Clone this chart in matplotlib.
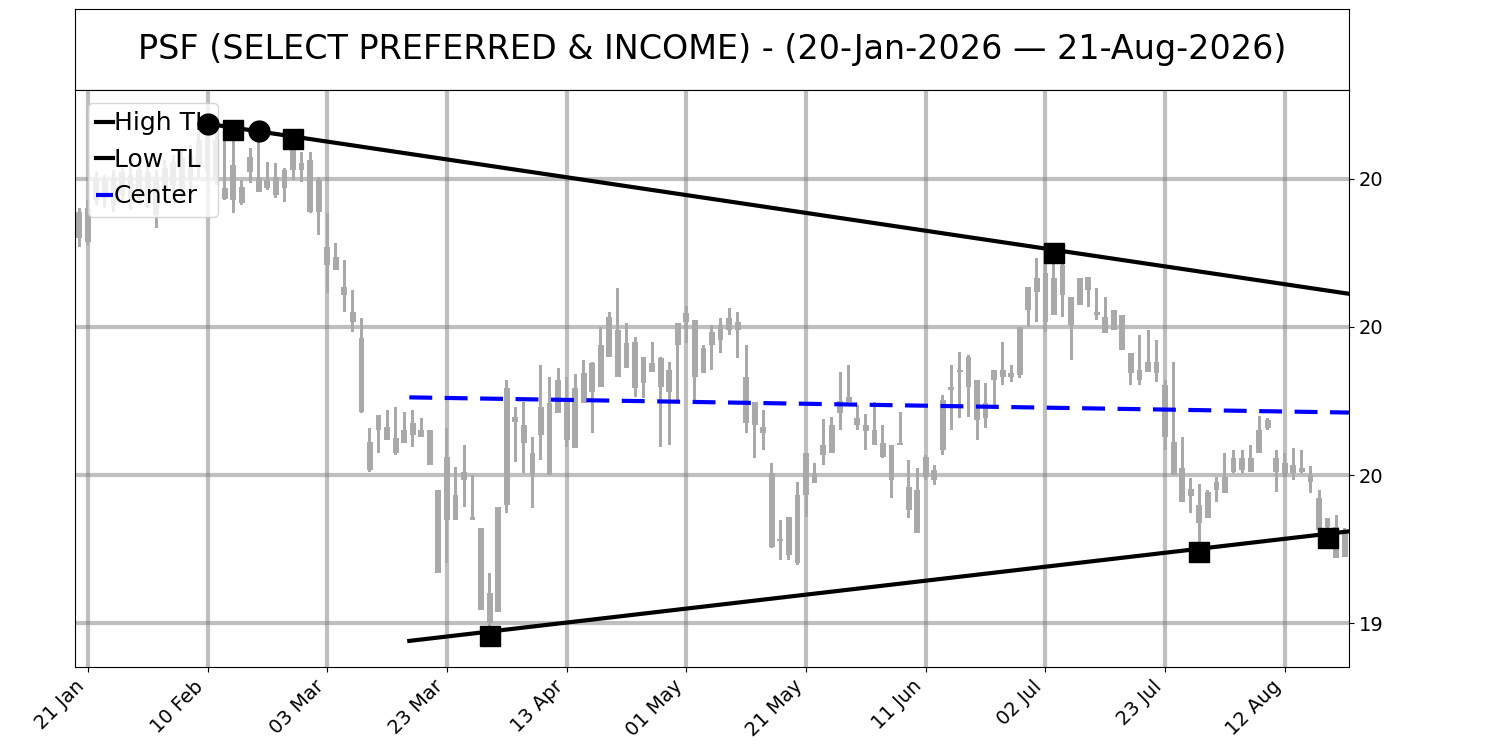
import matplotlib
matplotlib.use('Agg')
import matplotlib.pyplot as plt
import numpy as np
import pandas as pd

TITLE = 'PSF (SELECT PREFERRED & INCOME) - (20-Jan-2026 \u2014 21-Aug-2026)'

HOLIDAYS = ['2026-02-16', '2026-04-03', '2026-05-25', '2026-06-19', '2026-07-03']
DATES = pd.bdate_range('2026-01-20', '2026-08-21', freq='C', holidays=HOLIDAYS)

# daily bars
HIGH = [19.951, 19.965, 20.012, 20.007, 20.015, 20.019, 20.024, 20.032, 20.024, 20.015,
        20.032, 20.041, 20.049, 20.057, 20.083, 20.093, 20.086, 20.083, 20.083, 19.998,
        20.052, 20.081, 20.029, 20.027, 20.019, 20.068, 20.046, 20.046, 20.003, 19.943,
        19.892, 19.863, 19.813, 19.765, 19.579, 19.601, 19.610, 19.615, 19.606, 19.610,
        19.596, 19.576, 19.475, 19.579, 19.514, 19.551, 19.500, 19.411, 19.334, 19.446,
        19.660, 19.615, 19.623, 19.564, 19.686, 19.666, 19.681, 19.666, 19.671, 19.694,
        19.691, 19.750, 19.775, 19.816, 19.757, 19.733, 19.699, 19.725, 19.699, 19.691,
        19.757, 19.786, 19.762, 19.720, 19.753, 19.765, 19.782, 19.775, 19.720, 19.623,
        19.610, 19.520, 19.424, 19.429, 19.488, 19.537, 19.520, 19.595, 19.598, 19.674,
        19.686, 19.618, 19.603, 19.623, 19.584, 19.551, 19.606, 19.525, 19.512, 19.534,
        19.517, 19.635, 19.686, 19.708, 19.703, 19.660, 19.655, 19.677, 19.725, 19.686,
        19.750, 19.818, 19.867, 19.867, 19.875, 19.875, 19.801, 19.833, 19.834, 19.816,
        19.801, 19.779, 19.770, 19.706, 19.736, 19.745, 19.728, 19.660, 19.691, 19.564,
        19.495, 19.485, 19.475, 19.497, 19.537, 19.542, 19.542, 19.551, 19.600, 19.596,
        19.542, 19.537, 19.546, 19.542, 19.515, 19.475, 19.427, 19.432, 19.411]
OPEN = [19.944, 19.951, 20.002, 19.998, 20.002, 20.012, 20.007, 20.015, 20.012, 19.998,
        20.019, 20.029, 20.035, 20.041, 20.066, 20.083, 20.066, 19.985, 20.024, 19.986,
        20.037, 20.002, 19.998, 20.003, 20.015, 20.049, 20.027, 20.032, 19.998, 19.885,
        19.868, 19.818, 19.775, 19.731, 19.556, 19.601, 19.581, 19.562, 19.576, 19.588,
        19.576, 19.576, 19.475, 19.530, 19.466, 19.505, 19.429, 19.411, 19.301, 19.446,
        19.647, 19.598, 19.584, 19.537, 19.615, 19.622, 19.660, 19.627, 19.647, 19.672,
        19.689, 19.720, 19.767, 19.745, 19.723, 19.725, 19.699, 19.689, 19.698, 19.677,
        19.757, 19.774, 19.762, 19.715, 19.742, 19.753, 19.765, 19.759, 19.666, 19.623,
        19.581, 19.503, 19.392, 19.429, 19.466, 19.537, 19.503, 19.551, 19.584, 19.625,
        19.632, 19.596, 19.584, 19.576, 19.554, 19.551, 19.554, 19.480, 19.475, 19.530,
        19.508, 19.627, 19.649, 19.677, 19.699, 19.660, 19.622, 19.677, 19.677, 19.672,
        19.750, 19.818, 19.833, 19.841, 19.833, 19.855, 19.801, 19.833, 19.834, 19.775,
        19.767, 19.779, 19.770, 19.706, 19.677, 19.691, 19.691, 19.652, 19.556, 19.512,
        19.476, 19.449, 19.471, 19.488, 19.497, 19.529, 19.529, 19.529, 19.576, 19.593,
        19.529, 19.520, 19.517, 19.512, 19.500, 19.461, 19.427, 19.412, 19.407]
CLOSE = [19.900, 19.894, 19.965, 19.973, 19.956, 19.973, 19.965, 19.968, 19.965, 19.939,
         19.981, 19.990, 19.981, 19.998, 20.024, 20.015, 19.998, 19.966, 19.965, 19.959,
         20.012, 19.978, 19.985, 19.973, 19.985, 20.015, 20.015, 19.944, 19.944, 19.855,
         19.846, 19.804, 19.759, 19.606, 19.508, 19.576, 19.559, 19.537, 19.554, 19.568,
         19.564, 19.517, 19.334, 19.424, 19.424, 19.492, 19.424, 19.272, 19.250, 19.269,
         19.449, 19.590, 19.554, 19.500, 19.568, 19.500, 19.605, 19.559, 19.546, 19.622,
         19.640, 19.649, 19.699, 19.666, 19.681, 19.647, 19.655, 19.674, 19.649, 19.640,
         19.720, 19.759, 19.666, 19.672, 19.720, 19.728, 19.745, 19.745, 19.588, 19.584,
         19.571, 19.378, 19.389, 19.365, 19.351, 19.466, 19.486, 19.534, 19.537, 19.605,
         19.623, 19.584, 19.574, 19.551, 19.530, 19.492, 19.551, 19.441, 19.402, 19.497,
         19.492, 19.542, 19.644, 19.674, 19.649, 19.593, 19.596, 19.660, 19.666, 19.666,
         19.669, 19.779, 19.809, 19.759, 19.770, 19.804, 19.753, 19.787, 19.813, 19.770,
         19.740, 19.745, 19.711, 19.672, 19.660, 19.674, 19.672, 19.564, 19.500, 19.454,
         19.465, 19.419, 19.427, 19.475, 19.470, 19.505, 19.508, 19.505, 19.537, 19.579,
         19.505, 19.503, 19.503, 19.505, 19.488, 19.407, 19.412, 19.360, 19.361]
LOW = [19.885, 19.889, 19.956, 19.951, 19.944, 19.965, 19.948, 19.956, 19.951, 19.917,
       19.965, 19.973, 19.965, 19.981, 20.002, 19.998, 19.990, 19.965, 19.943, 19.956,
       19.993, 19.978, 19.981, 19.968, 19.961, 19.998, 19.995, 19.943, 19.905, 19.807,
       19.846, 19.775, 19.742, 19.605, 19.505, 19.537, 19.559, 19.534, 19.554, 19.547,
       19.564, 19.517, 19.334, 19.351, 19.424, 19.446, 19.424, 19.272, 19.235, 19.269,
       19.436, 19.522, 19.503, 19.444, 19.525, 19.500, 19.605, 19.547, 19.546, 19.622,
       19.571, 19.649, 19.699, 19.666, 19.681, 19.632, 19.630, 19.674, 19.547, 19.551,
       19.623, 19.723, 19.627, 19.672, 19.677, 19.706, 19.736, 19.698, 19.571, 19.529,
       19.542, 19.377, 19.357, 19.357, 19.348, 19.429, 19.486, 19.517, 19.537, 19.576,
       19.623, 19.576, 19.542, 19.551, 19.529, 19.461, 19.551, 19.427, 19.402, 19.492,
       19.483, 19.534, 19.576, 19.596, 19.598, 19.559, 19.579, 19.618, 19.652, 19.657,
       19.664, 19.750, 19.759, 19.742, 19.770, 19.767, 19.694, 19.787, 19.784, 19.762,
       19.740, 19.745, 19.711, 19.652, 19.652, 19.674, 19.657, 19.542, 19.500, 19.454,
       19.436, 19.377, 19.427, 19.454, 19.470, 19.503, 19.503, 19.505, 19.537, 19.576,
       19.471, 19.503, 19.492, 19.503, 19.470, 19.407, 19.400, 19.360, 19.361]

# trend lines (bar index, price)
HIGH_TL_X = [15, 148.5]
HIGH_TL_Y = [20.093, 19.806]
LOW_TL_X = [38.6, 148.5]
LOW_TL_Y = [19.220, 19.405]

# pivots
HIGH_CIRCLE_X = [15, 21]
HIGH_CIRCLE_Y = [20.093, 20.081]
HIGH_SQUARE_X = [18, 25, 114]
HIGH_SQUARE_Y = [20.083, 20.068, 19.875]
LOW_SQUARE_X = [48, 131, 146]
LOW_SQUARE_Y = [19.229, 19.370, 19.394]

YTICKS = [19.25, 19.5, 19.75, 20.0]

x = np.arange(len(DATES))
o = np.array(OPEN)
c = np.array(CLOSE)
h = np.array(HIGH)
l = np.array(LOW)

fig = plt.figure(figsize=(15, 7.5), dpi=100)
tax = fig.add_axes([0.05, 0.88, 0.8493, 0.108])
tax.set_xticks([])
tax.set_yticks([])
tax.text(0.5, 0.5, TITLE, ha='center', va='center', fontsize=24, transform=tax.transAxes)

ax = fig.add_axes([0.05, 0.1107, 0.8493, 0.7693])
ax.set_axisbelow(True)
ax.grid(True, color='gray', alpha=0.5, lw=3)

ax.bar(x, h - l, bottom=l, width=0.35, color='darkgray')
ax.bar(x, np.abs(c - o), bottom=np.minimum(o, c), width=0.68, color='darkgray')

ax.plot(HIGH_TL_X, HIGH_TL_Y, color='black', lw=3, label='High TL')
ax.plot(LOW_TL_X, LOW_TL_Y, color='black', lw=3, label='Low TL')
cx = np.array(LOW_TL_X)
hy = np.interp(cx, HIGH_TL_X, HIGH_TL_Y)
ax.plot(cx, (hy + np.array(LOW_TL_Y)) / 2, color='blue', lw=3,
        linestyle=(0, (5.5, 3)), label='Center')

# pivot markers sit above the legend
ax.plot(HIGH_CIRCLE_X, HIGH_CIRCLE_Y, 'o', color='black', ms=15, zorder=6)
ax.plot(HIGH_SQUARE_X, HIGH_SQUARE_Y, 's', color='black', ms=14, zorder=6)
ax.plot(LOW_SQUARE_X, LOW_SQUARE_Y, 's', color='black', ms=14, zorder=6)

ax.set_xlim(-0.5, len(DATES) - 0.5)
ax.set_ylim(19.176, 20.150)
ticks = x[1::14]
ax.set_xticks(ticks)
ax.set_xticklabels([DATES[i].strftime('%d %b') for i in ticks], rotation=45, ha='right', fontsize=14)
ax.yaxis.tick_right()
ax.set_yticks(YTICKS)
ax.set_yticklabels(['%.0f' % v for v in YTICKS], fontsize=14)

ax.legend(loc='upper left', fontsize=18, handlelength=0.65, handletextpad=0.05,
          labelspacing=0.5, borderpad=0.35)

fig.savefig('out.png')
